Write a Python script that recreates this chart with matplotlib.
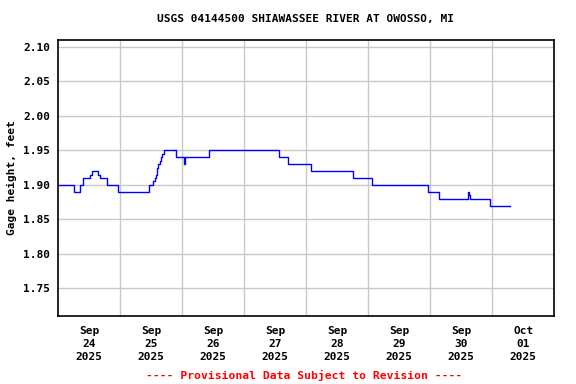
import numpy as np
import pandas as pd
import matplotlib
matplotlib.use("Agg")
import matplotlib.pyplot as plt
import matplotlib.dates as mdates

# step points (time the level changes, level after change)
step_times = [
    "2025-09-24 00:00", "2025-09-24 06:00", "2025-09-24 08:30", "2025-09-24 09:45",
    "2025-09-24 12:15", "2025-09-24 13:00", "2025-09-24 15:15", "2025-09-24 16:00",
    "2025-09-24 18:45", "2025-09-24 23:00", "2025-09-25 11:00", "2025-09-25 12:45",
    "2025-09-25 13:15", "2025-09-25 13:45", "2025-09-25 14:15", "2025-09-25 14:45",
    "2025-09-25 15:15", "2025-09-25 15:45", "2025-09-25 16:15", "2025-09-25 16:45",
    "2025-09-25 21:45", "2025-09-26 00:45", "2025-09-26 01:00", "2025-09-26 10:15",
    "2025-09-27 13:15", "2025-09-27 17:00", "2025-09-28 02:00", "2025-09-28 18:00",
    "2025-09-29 01:30", "2025-09-29 23:15", "2025-09-30 03:30", "2025-09-30 14:45",
    "2025-09-30 15:00", "2025-09-30 15:15", "2025-09-30 23:15", "2025-10-01 06:45",
]
gage_height = [
    1.90, 1.89, 1.90, 1.91,
    1.915, 1.92, 1.915, 1.91,
    1.90, 1.89, 1.90, 1.905,
    1.91, 1.915, 1.925, 1.93,
    1.935, 1.94, 1.945, 1.95,
    1.94, 1.93, 1.94, 1.95,
    1.94, 1.93, 1.92, 1.91,
    1.90, 1.89, 1.88, 1.89,
    1.885, 1.88, 1.87, 1.87,
]

day_ticks = ["2025-09-24 12:00", "2025-09-25 12:00", "2025-09-26 12:00", "2025-09-27 12:00",
             "2025-09-28 12:00", "2025-09-29 12:00", "2025-09-30 12:00", "2025-10-01 12:00"]
day_labels = ["Sep\n24\n2025", "Sep\n25\n2025", "Sep\n26\n2025", "Sep\n27\n2025",
              "Sep\n28\n2025", "Sep\n29\n2025", "Sep\n30\n2025", "Oct\n01\n2025"]
y_ticks = [1.75, 1.80, 1.85, 1.90, 1.95, 2.00, 2.05, 2.10]

font = dict(family="DejaVu Sans Mono", fontweight="bold")

t = pd.to_datetime(step_times)
grid_days = pd.date_range("2025-09-25", "2025-10-01", freq="D")

fig = plt.figure(figsize=(5.76, 3.84), dpi=100)
ax = fig.add_axes([0.1012, 0.177, 0.8611, 0.719])

ax.step(t, gage_height, where="post", color="#0000ff", linewidth=1)

ax.set_xlim(pd.Timestamp("2025-09-24"), pd.Timestamp("2025-10-02"))
ax.set_ylim(1.71, 2.11)

# gridlines at midnight, labels at noon
for g in grid_days:
    ax.axvline(g, color="#c8c8c8", linewidth=1, zorder=0)
for y in y_ticks:
    ax.axhline(y, color="#c8c8c8", linewidth=1, zorder=0)

ax.set_xticks(pd.to_datetime(day_ticks))
ax.set_xticklabels(day_labels, fontsize=8, linespacing=1.4, **font)
ax.set_yticks(y_ticks)
ax.set_yticklabels([f"{v:.2f}" for v in y_ticks], fontsize=8, **font)
ax.tick_params(axis="y", length=0, pad=6)
ax.tick_params(axis="x", length=0, pad=7)

for s in ax.spines.values():
    s.set_linewidth(1.2)
    s.set_color("black")

ax.set_ylabel("Gage height, feet", fontsize=8, labelpad=4, **font)
fig.text(0.53, 0.95, "USGS 04144500 SHIAWASSEE RIVER AT OWOSSO, MI",
         ha="center", va="center", fontsize=8, **font)
fig.text(0.528, 0.023, "---- Provisional Data Subject to Revision ----",
         ha="center", va="center", fontsize=8.2, color="red", **font)

fig.savefig("out.png", dpi=100)
plt.close(fig)
